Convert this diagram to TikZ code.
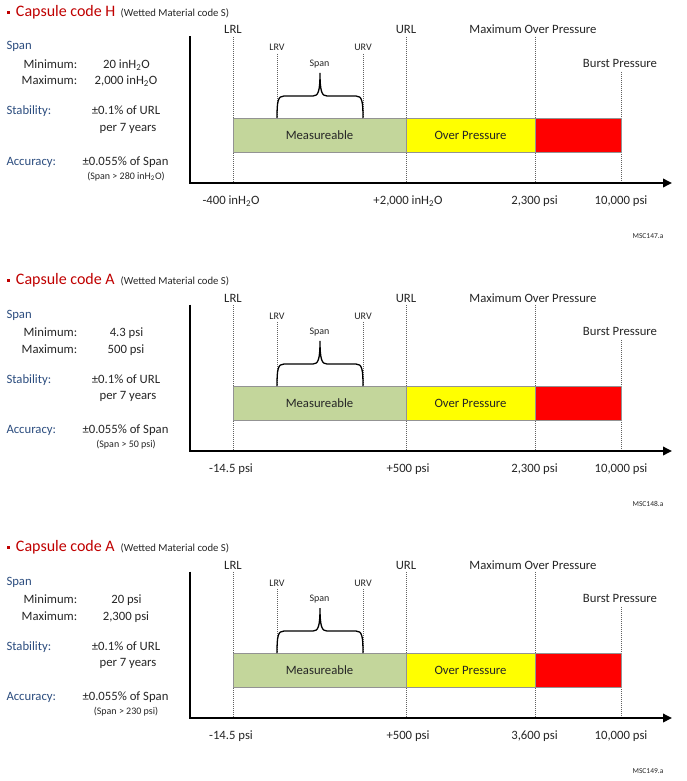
\documentclass[tikz,border=0pt]{standalone}
\usepackage{fontspec}
\setmainfont{Carlito}
\usetikzlibrary{arrows.meta}
\definecolor{titlered}{HTML}{C00000}
\definecolor{labelblue}{HTML}{2C4D7F}
\definecolor{txt}{HTML}{262626}
\definecolor{measgreen}{HTML}{C3D69B}
\definecolor{ovyellow}{HTML}{FFFF00}
\definecolor{burstred}{HTML}{FF0000}
\tikzset{
  base/.style={inner sep=0pt, outer sep=0pt},
  lbl/.style={base, text=txt, font=\fontsize{12.7}{14}\selectfont},
  bluelbl/.style={base, text=labelblue, font=\fontsize{12.7}{14}\selectfont},
  smalllbl/.style={base, text=txt, font=\fontsize{10}{11}\selectfont},
  notelbl/.style={base, text=txt, font=\fontsize{10}{11}\selectfont},
  tinylbl/.style={base, text=txt, font=\fontsize{7.5}{8}\selectfont},
  titlelbl/.style={base, text=titlered, font=\fontsize{16}{18}\selectfont},
  sublbl/.style={base, text=txt, font=\fontsize{10.7}{12}\selectfont},
  guide/.style={draw=gray!75!black, line width=0.5pt, dash pattern=on 1pt off 1pt},
  axisline/.style={line width=1.8pt, black, line join=miter},
  band/.style={base, draw=gray!85, line width=0.6pt, minimum height=34pt, anchor=north west,
    text=txt, font=\fontsize{12.7}{14}\selectfont},
  bracestyle/.style={line width=1.3pt, black},
}
\newcommand{\capsulepanel}[9]{%
  % title
  \fill[titlered] (7.3,11) rectangle (10,14);
  \node[titlelbl, anchor=base west] (#1-title) at (16,16.7) {Capsule code #2};
  \node[sublbl, anchor=base west] (#1-sub) at (120.7,16.5) {(Wetted Material code S)};
  % left column
  \node[bluelbl, anchor=base west] (#1-span) at (6.5,50) {Span};
  \node[lbl, anchor=base east] (#1-minl) at (77.3,68.3) {Minimum:};
  \node[lbl, anchor=base] (#1-minv) at (126.5,68.3) {#3};
  \node[lbl, anchor=base east] (#1-maxl) at (77.3,85) {Maximum:};
  \node[lbl, anchor=base] (#1-maxv) at (126,85) {#4};
  \node[bluelbl, anchor=base west] (#1-stab) at (6.5,115) {Stability:};
  \node[lbl, anchor=base] (#1-stabv) at (126,115) {±0.1\% of URL};
  \node[lbl, anchor=base] (#1-stabw) at (128,131.5) {per 7 years};
  \node[bluelbl, anchor=base west] (#1-acc) at (6.5,165.5) {Accuracy:};
  \node[lbl, anchor=base] (#1-accv) at (125.5,165.5) {±0.055\% of Span};
  \node[notelbl, anchor=base] (#1-accn) at (126,179) {#5};
  % labels above
  \node[lbl, anchor=base] (#1-lrl) at (233,34) {LRL};
  \node[lbl, anchor=base] (#1-url) at (406,34) {URL};
  \node[lbl, anchor=base] (#1-mop) at (533,34) {Maximum Over Pressure};
  \node[lbl, anchor=base] (#1-bp) at (620,67.5) {Burst Pressure};
  \node[smalllbl, anchor=base] (#1-lrv) at (277,51) {LRV};
  \node[smalllbl, anchor=base] (#1-urv) at (363,51) {URV};
  \node[smalllbl, anchor=base] (#1-spanb) at (319.5,66.5) {Span};
  % guide coordinates
  \coordinate (#1-lrlt) at (233,37);  \coordinate (#1-lrlb) at (233,183);
  \coordinate (#1-urlt) at (406,37);  \coordinate (#1-urlb) at (406,183);
  \coordinate (#1-mopt) at (535,37);  \coordinate (#1-mopb) at (535,183);
  \coordinate (#1-bpt) at (621,72);   \coordinate (#1-bpb) at (621,183);
  \coordinate (#1-lrvt) at (277,54);  \coordinate (#1-lrvb) at (277,118);
  \coordinate (#1-urvt) at (363,54);  \coordinate (#1-urvb) at (363,118);
  \draw[guide] (#1-lrlt) -- (#1-lrlb);
  \draw[guide] (#1-urlt) -- (#1-urlb);
  \draw[guide] (#1-mopt) -- (#1-mopb);
  \draw[guide] (#1-bpt) -- (#1-bpb);
  \draw[guide] (#1-lrvt) -- (#1-lrvb);
  \draw[guide] (#1-urvt) -- (#1-urvb);
  % bars
  \node[band, fill=measgreen, minimum width=173pt] (#1-meas) at (233,118) {Measureable};
  \node[band, fill=ovyellow, minimum width=129pt] (#1-over) at (406,118) {Over Pressure};
  \node[band, fill=burstred, minimum width=86pt] (#1-burst) at (535,118) {};
  % brace
  \draw[bracestyle] (277,118) .. controls (277,101) and (278,96) .. (284,96) -- (313,96)
     .. controls (318,96) and (320,92) .. (320,73)
     .. controls (320,92) and (322,96) .. (327,96) -- (356,96)
     .. controls (362,96) and (363,101) .. (363,118);
  % axes
  \coordinate (#1-ytop) at (190,36.5);
  \coordinate (#1-orig) at (190,183);
  \coordinate (#1-xend) at (672,183);
  \draw[axisline, -{Triangle[length=9pt,width=8.5pt]}] (#1-ytop) -- (#1-orig) -- (#1-xend);
  % tick labels
  \node[lbl, anchor=base] (#1-t1) at (231,204.5) {#6};
  \node[lbl, anchor=base] (#1-t2) at (408,204.5) {#7};
  \node[lbl, anchor=base] (#1-t3) at (534.5,204.5) {#8};
  \node[lbl, anchor=base] (#1-t4) at (621,204.5) {10,000 psi};
  \node[tinylbl, anchor=base] (#1-msc) at (648,238.3) {#9};
}
\begin{document}
\begin{tikzpicture}[x=1pt,y=-1pt]
  \fill[white] (0,0) rectangle (686,781);
  \useasboundingbox (0,0) rectangle (686,781);
  \begin{scope}
    \capsulepanel{p1}{H}{20 inH\textsubscript{2}O}{2,000 inH\textsubscript{2}O}{(Span > 280 inH\textsubscript{2}O)}{-400 inH\textsubscript{2}O}{+2,000 inH\textsubscript{2}O}{2,300 psi}{MSC147.a}
  \end{scope}
  \begin{scope}[yshift=-268pt]
    \capsulepanel{p2}{A}{4.3 psi}{500 psi}{(Span > 50 psi)}{-14.5 psi}{+500 psi}{2,300 psi}{MSC148.a}
  \end{scope}
  \begin{scope}[yshift=-535pt]
    \capsulepanel{p3}{A}{20 psi}{2,300 psi}{(Span > 230 psi)}{-14.5 psi}{+500 psi}{3,600 psi}{MSC149.a}
  \end{scope}
\end{tikzpicture}
\end{document}
